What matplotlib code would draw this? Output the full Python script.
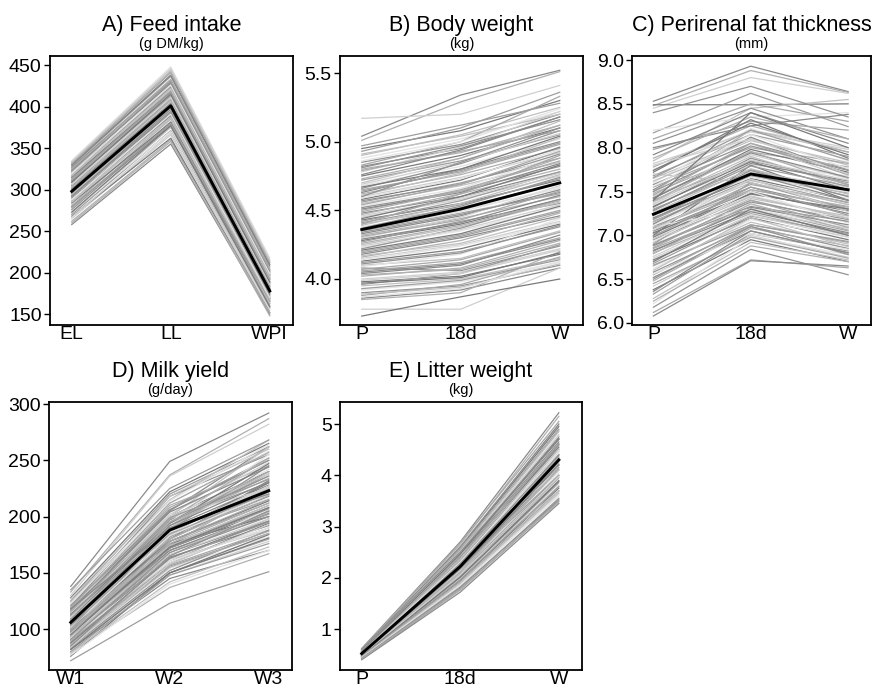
import matplotlib
matplotlib.use("Agg")
import matplotlib.pyplot as plt
import numpy as np

plt.rcParams['font.family'] = ['Liberation Sans', 'DejaVu Sans']

# ---------------- data: one value per animal and time point ----------------
feed_labels = ["EL", "LL", "WPI"]
feed_el = [258, 262, 265, 268, 270, 272, 274, 276, 278, 280, 281, 283, 284, 286, 287, 289, 290, 291,
           293, 294, 295, 296, 297, 298, 299, 300, 301, 302, 303, 304, 305, 306, 307, 308, 309, 310,
           311, 312, 314, 315, 316, 318, 319, 321, 322, 324, 326, 328, 330, 331, 333, 335, 327, 317, 292,
           260, 267, 273, 279, 285, 288, 292, 296, 300, 303, 306, 309, 313, 317, 320, 323, 325, 329, 332, 334]
feed_ll = [355, 360, 366, 362, 371, 375, 370, 379, 382, 377, 385, 388, 381, 390, 386, 393, 389, 395,
           392, 398, 396, 401, 399, 403, 405, 400, 407, 404, 410, 406, 412, 409, 414, 411, 417, 413,
           419, 416, 421, 418, 424, 420, 427, 423, 430, 428, 433, 436, 438, 441, 444, 448, 431, 425, 397,
           358, 368, 377, 380, 387, 391, 394, 398, 404, 408, 411, 415, 418, 422, 426, 429, 432, 437, 442, 446]
feed_wpi = [150, 148, 155, 152, 158, 160, 156, 163, 161, 165, 167, 164, 169, 170, 166, 172, 171, 174,
            169, 176, 178, 175, 180, 177, 182, 179, 181, 184, 183, 186, 180, 188, 185, 190, 187, 192,
            189, 194, 191, 196, 193, 198, 195, 200, 202, 198, 205, 207, 210, 212, 215, 218, 201, 197, 173,
            152, 157, 159, 166, 168, 170, 176, 179, 183, 181, 186, 189, 192, 195, 199, 203, 204, 208, 213, 216]
feed_mean = [298, 401, 178]

bw_labels = ["P", "18d", "W"]
bw_p = [5.04, 5.01, 5.17, 4.95, 4.93, 4.90, 4.88, 4.85, 4.83, 4.82, 4.80, 4.78, 4.75, 4.72, 4.70, 4.68,
        4.66, 4.65, 4.63, 4.62, 4.60, 4.58, 4.56, 4.55, 4.53, 4.52, 4.50, 4.48, 4.47, 4.45, 4.43, 4.42,
        4.40, 4.38, 4.37, 4.35, 4.33, 4.32, 4.30, 4.28, 4.27, 4.25, 4.23, 4.22, 4.20, 4.18, 4.16, 4.15,
        4.13, 4.12, 4.10, 4.09, 4.08, 4.06, 4.04, 4.02, 4.00, 3.98, 3.96, 3.95, 3.92, 3.90, 3.88, 3.86,
        3.85, 3.78, 3.73,
        4.97, 4.91, 4.86, 4.81, 4.79, 4.76, 4.73, 4.69, 4.67, 4.64, 4.61, 4.59, 4.57, 4.54, 4.51, 4.49,
        4.46, 4.44, 4.41, 4.39, 4.36, 4.34, 4.31, 4.29, 4.26, 4.24, 4.21, 4.19, 4.17, 4.14, 4.11, 4.07,
        4.05, 4.03, 3.99, 3.97, 3.93, 3.89, 3.87, 4.60, 4.40]
bw_18d = [5.34, 5.29, 5.20, 5.08, 5.10, 5.05, 5.02, 4.98, 5.00, 4.95, 4.92, 4.96, 4.90, 4.86, 4.88, 4.82,
          4.84, 4.78, 4.80, 4.76, 4.74, 4.72, 4.70, 4.68, 4.66, 4.64, 4.65, 4.60, 4.62, 4.58, 4.55, 4.57,
          4.52, 4.50, 4.53, 4.48, 4.46, 4.44, 4.45, 4.40, 4.42, 4.38, 4.35, 4.37, 4.32, 4.30, 4.28, 4.25,
          4.22, 4.20, 4.15, 4.18, 4.06, 4.12, 4.10, 4.08, 4.05, 4.02, 4.04, 4.00, 3.98, 3.95, 3.96, 3.92,
          3.90, 3.78, 3.87,
          5.12, 5.04, 5.00, 4.97, 4.93, 4.94, 4.88, 4.85, 4.80, 4.79, 4.77, 4.73, 4.69, 4.69, 4.63, 4.64,
          4.59, 4.60, 4.54, 4.55, 4.49, 4.47, 4.43, 4.41, 4.39, 4.36, 4.33, 4.31, 4.26, 4.24, 4.19, 4.14,
          4.11, 4.07, 4.04, 4.01, 3.99, 3.94, 3.93, 4.85, 4.62]
bw_w = [5.52, 5.51, 5.41, 5.30, 5.36, 5.25, 5.22, 5.20, 5.33, 5.18, 5.12, 5.22, 5.10, 5.05, 5.15, 5.02,
        5.08, 4.98, 5.00, 4.95, 4.92, 4.96, 4.88, 4.85, 4.90, 4.82, 4.86, 4.78, 4.80, 4.75, 4.72, 4.78,
        4.70, 4.66, 4.74, 4.62, 4.65, 4.60, 4.68, 4.58, 4.55, 4.56, 4.52, 4.58, 4.50, 4.46, 4.48, 4.42,
        4.40, 4.38, 4.35, 4.44, 4.24, 4.30, 4.32, 4.28, 4.22, 4.18, 4.25, 4.15, 4.12, 4.10, 4.16, 4.08,
        4.20, 4.08, 4.00,
        5.28, 5.20, 5.24, 5.16, 5.08, 5.18, 5.12, 5.06, 5.04, 4.99, 5.03, 4.94, 4.91, 4.93, 4.84, 4.88,
        4.77, 4.83, 4.73, 4.76, 4.67, 4.63, 4.64, 4.61, 4.57, 4.54, 4.53, 4.49, 4.45, 4.41, 4.39, 4.34,
        4.29, 4.26, 4.21, 4.19, 4.14, 4.11, 4.13, 5.10, 4.90]
bw_mean = [4.36, 4.51, 4.70]

fat_labels = ["P", "18d", "W"]
fat_p = [8.53, 8.48, 8.45, 8.49, 8.17, 7.85, 8.20, 8.05, 7.98, 7.92, 7.78, 7.75, 7.72, 7.68, 7.65, 7.60,
         7.58, 7.55, 7.52, 7.48, 7.45, 7.42, 7.40, 7.38, 7.35, 7.32, 7.30, 7.28, 7.25, 7.22, 7.20, 7.18,
         7.15, 7.12, 7.10, 7.08, 7.05, 7.02, 7.00, 6.98, 6.95, 6.92, 6.90, 6.88, 6.85, 6.82, 6.80, 6.76,
         6.72, 6.68, 6.65, 6.62, 6.58, 6.55, 6.52, 6.48, 6.42, 6.38, 6.33, 6.28, 6.22, 6.18, 6.12, 6.08,
         7.50, 7.35, 7.00, 6.90, 7.70, 7.10,
         8.40, 8.10, 8.00, 7.88, 7.82, 7.74, 7.66, 7.62, 7.56, 7.50, 7.46, 7.43, 7.39, 7.36, 7.33, 7.29,
         7.26, 7.23, 7.19, 7.16, 7.13, 7.09, 7.06, 7.03, 6.99, 6.96, 6.93, 6.89, 6.86, 6.83, 6.79, 6.74,
         6.70, 6.66, 6.60, 6.56, 6.50, 6.45, 6.36, 6.25, 7.80, 7.40]
fat_18d = [8.93, 8.88, 8.80, 8.49, 8.62, 8.45, 8.35, 8.45, 8.30, 8.40, 8.25, 8.20, 8.32, 8.15, 8.10, 8.22,
           8.05, 8.00, 8.12, 7.95, 7.92, 7.98, 7.85, 7.90, 7.80, 7.88, 7.75, 7.82, 7.70, 7.72, 7.65, 7.68,
           7.60, 7.62, 7.55, 7.58, 7.50, 7.52, 7.45, 7.48, 7.40, 7.42, 7.35, 7.38, 7.30, 7.32, 7.25, 7.28,
           7.20, 7.22, 7.15, 7.18, 7.10, 7.12, 7.05, 7.08, 7.00, 6.95, 7.02, 6.92, 6.98, 6.84, 6.72, 6.71,
           8.20, 8.05, 7.80, 7.60, 7.60, 7.30,
           8.70, 8.50, 8.25, 8.35, 8.18, 8.28, 8.20, 8.08, 8.15, 8.02, 8.05, 7.94, 7.96, 7.86, 7.84, 7.79,
           7.76, 7.66, 7.74, 7.63, 7.70, 7.52, 7.64, 7.47, 7.55, 7.44, 7.50, 7.33, 7.40, 7.27, 7.36, 7.23,
           7.30, 7.12, 7.20, 7.02, 7.10, 6.98, 7.05, 6.88, 8.10, 8.40]
fat_w = [8.64, 8.63, 8.62, 8.50, 8.24, 8.55, 8.40, 8.10, 8.20, 8.05, 7.95, 8.00, 7.88, 7.90, 7.80, 7.85,
         7.75, 7.82, 7.70, 7.78, 7.65, 7.72, 7.60, 7.55, 7.68, 7.58, 7.50, 7.62, 7.45, 7.55, 7.40, 7.48,
         7.35, 7.42, 7.30, 7.38, 7.25, 7.32, 7.20, 7.28, 7.15, 7.22, 7.10, 7.18, 7.05, 7.12, 7.00, 7.08,
         6.95, 7.02, 6.90, 6.98, 6.85, 6.92, 6.80, 6.88, 6.75, 6.70, 6.82, 6.72, 6.78, 6.55, 6.63, 6.65,
         7.95, 7.65, 7.40, 7.30, 7.35, 7.10,
         8.35, 8.30, 8.38, 8.10, 7.98, 7.92, 7.86, 7.83, 7.76, 7.74, 7.69, 7.66, 7.57, 7.63, 7.52, 7.56,
         7.47, 7.50, 7.44, 7.37, 7.40, 7.33, 7.27, 7.30, 7.23, 7.19, 7.14, 7.16, 7.09, 7.03, 7.06, 6.98,
         7.00, 6.93, 6.87, 6.84, 6.78, 6.74, 6.80, 6.70, 7.70, 8.00]
fat_mean = [7.24, 7.70, 7.52]

milk_labels = ["W1", "W2", "W3"]
milk_w1 = [138, 133, 130, 128, 125, 124, 122, 120, 119, 118, 117, 116, 115, 114, 113, 112, 111, 110,
           109, 108, 107, 106, 105, 104, 103, 102, 101, 100, 99, 98, 97, 96, 95, 94, 93, 92, 91, 90,
           89, 88, 87, 86, 85, 84, 83, 82, 80, 78, 76, 72, 110, 105, 100, 115, 95, 90, 120, 108,
           135, 127, 123, 121, 119, 117, 116, 114, 113, 112, 111, 110, 109, 108, 107, 106, 105, 104,
           103, 102, 101, 100, 99, 98, 97, 96, 95, 94, 93, 92, 91, 90, 88, 86, 84, 82, 80, 79, 77,
           85, 100, 118]
milk_w2 = [249, 237, 236, 222, 220, 215, 212, 218, 208, 205, 210, 202, 200, 206, 198, 195, 197, 192,
           190, 194, 188, 185, 190, 182, 186, 180, 178, 183, 175, 178, 172, 174, 170, 168, 166, 170, 164,
           160, 162, 158, 156, 160, 154, 152, 150, 145, 137, 148, 150, 123, 200, 195, 188, 185, 180, 175,
           200, 176,
           225, 218, 214, 206, 212, 204, 198, 200, 194, 199, 190, 186, 195, 184, 192, 180, 187, 178,
           182, 174, 183, 172, 178, 170, 176, 166, 173, 163, 168, 160, 168, 157, 163, 155, 158, 150,
           148, 142, 140, 165, 195, 190]
milk_w3 = [292, 287, 282, 265, 262, 268, 258, 255, 250, 262, 245, 248, 240, 252, 236, 242, 230, 238,
           228, 234, 225, 230, 220, 226, 216, 222, 212, 218, 208, 214, 205, 210, 200, 206, 196, 202, 192,
           198, 188, 194, 185, 190, 182, 188, 180, 170, 167, 178, 184, 151, 262, 255, 245, 215, 232, 225,
           225, 200,
           268, 260, 264, 250, 257, 244, 252, 238, 247, 233, 240, 227, 236, 222, 231, 219, 227, 214,
           224, 210, 220, 207, 215, 203, 212, 198, 208, 195, 204, 190, 200, 187, 196, 185, 193, 181,
           176, 173, 170, 205, 240, 220]
milk_mean = [106, 188, 223]

litter_labels = ["P", "18d", "W"]
litter_p = [0.62, 0.60, 0.59, 0.58, 0.58, 0.57, 0.57, 0.56, 0.56, 0.55, 0.55, 0.54, 0.54, 0.53, 0.53,
            0.52, 0.52, 0.52, 0.51, 0.51, 0.50, 0.50, 0.50, 0.49, 0.49, 0.48, 0.48, 0.47, 0.47, 0.46,
            0.46, 0.45, 0.44, 0.43, 0.42, 0.41, 0.40, 0.55, 0.52, 0.50, 0.48, 0.46, 0.53, 0.49,
            0.61, 0.59, 0.58, 0.57, 0.56, 0.55, 0.54, 0.53, 0.52, 0.51, 0.50, 0.49, 0.48, 0.47, 0.46,
            0.45, 0.44, 0.43, 0.42, 0.60]
litter_18d = [2.70, 2.65, 2.62, 2.58, 2.55, 2.52, 2.50, 2.48, 2.45, 2.42, 2.40, 2.38, 2.35, 2.33, 2.30,
              2.28, 2.26, 2.24, 2.22, 2.20, 2.18, 2.16, 2.14, 2.12, 2.10, 2.08, 2.05, 2.02, 2.00, 1.98,
              1.95, 1.92, 1.88, 1.85, 1.80, 1.76, 1.72, 2.60, 2.45, 2.30, 2.20, 2.10, 2.15, 2.35,
              2.68, 2.60, 2.56, 2.50, 2.46, 2.40, 2.36, 2.31, 2.27, 2.21, 2.17, 2.11, 2.06, 2.01, 1.96,
              1.90, 1.86, 1.82, 1.78, 2.50]
litter_w = [5.22, 5.15, 4.98, 4.95, 4.90, 4.85, 4.80, 4.75, 4.70, 4.65, 4.62, 4.58, 4.55, 4.50, 4.46,
            4.42, 4.38, 4.35, 4.32, 4.28, 4.25, 4.20, 4.15, 4.10, 4.05, 4.00, 3.95, 3.90, 3.85, 3.80,
            3.75, 3.70, 3.65, 3.60, 3.55, 3.50, 3.45, 4.40, 4.10, 4.60, 4.00, 3.70, 4.45, 4.20,
            5.05, 5.00, 4.88, 4.78, 4.72, 4.60, 4.52, 4.48, 4.40, 4.30, 4.22, 4.12, 3.98, 3.88, 3.78,
            3.68, 3.62, 3.52, 3.48, 4.70]
litter_mean = [0.52, 2.22, 4.30]

# ---------------- layout ----------------
W, H = 872, 689
fig = plt.figure(figsize=(W / 100, H / 100), dpi=100)

def px_axes(x0, y0, x1, y1):
    return fig.add_axes([x0 / W, 1 - y1 / H, (x1 - x0) / W, (y1 - y0) / H])

shades = ['#8a8a8a', '#b0b0b0', '#cfcfcf', '#7a7a7a', '#9e9e9e', '#c0c0c0', '#e3e3e3', '#939393', '#a8a8a8']

def panel(box, title, unit, labels, cols, mean, ylim, yticks, fmt):
    ax = px_axes(*box)
    x = np.arange(len(labels))
    n = len(cols[0])
    for i in range(n):
        ys = [c[i] for c in cols]
        ax.plot(x, ys, color=shades[i % len(shades)], lw=0.9, zorder=2)
    ax.plot(x, mean, color='black', lw=2.1, zorder=5)
    ax.set_xlim(-0.22, 2.235)
    ax.set_ylim(*ylim)
    ax.set_xticks(x)
    ax.set_xticklabels(labels)
    ax.set_yticks(yticks)
    ax.set_yticklabels([fmt.format(v) for v in yticks])
    ax.tick_params(axis='x', length=0, pad=0.5, labelsize=14, colors='black')
    ax.tick_params(axis='y', length=4, width=1, pad=2, labelsize=14, colors='black')
    for s in ax.spines.values():
        s.set_linewidth(1.3)
        s.set_color('black')
    cx = (box[0] + box[2]) / 2 / W
    fig.text(cx, 1 - (box[1] - 25) / H, title, ha='center', va='baseline', fontsize=15.5)
    fig.text(cx, 1 - (box[1] - 8) / H, unit, ha='center', va='baseline', fontsize=10.5)
    return ax

panel((50, 56, 293, 325), "A) Feed intake", "(g DM/kg)", feed_labels,
      [feed_el, feed_ll, feed_wpi], feed_mean, (137, 461), [150, 200, 250, 300, 350, 400, 450], "{:.0f}")
panel((340, 56, 583, 325), "B) Body weight", "(kg)", bw_labels,
      [bw_p, bw_18d, bw_w], bw_mean, (3.665, 5.624), [4.0, 4.5, 5.0, 5.5], "{:.1f}")
panel((632, 56, 871, 325), "C) Perirenal fat thickness", "(mm)", fat_labels,
      [fat_p, fat_18d, fat_w], fat_mean, (5.977, 9.046), [6.0, 6.5, 7.0, 7.5, 8.0, 8.5, 9.0], "{:.1f}")
panel((49, 402, 292, 670), "D) Milk yield", "(g/day)", milk_labels,
      [milk_w1, milk_w2, milk_w3], milk_mean, (63.7, 301.8), [100, 150, 200, 250, 300], "{:.0f}")
panel((340, 402, 582, 670), "E) Litter weight", "(kg)", litter_labels,
      [litter_p, litter_18d, litter_w], litter_mean, (0.20, 5.43), [1, 2, 3, 4, 5], "{:.0f}")

fig.savefig("out.png", dpi=100)
